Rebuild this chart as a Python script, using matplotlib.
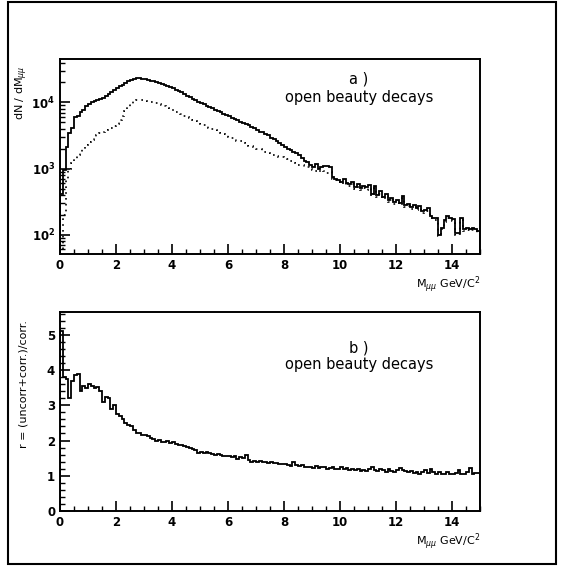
import numpy as np
import matplotlib
matplotlib.use("Agg")
import matplotlib.pyplot as plt
from matplotlib.patches import Rectangle
from matplotlib.ticker import MultipleLocator, LogLocator

# 0.1 GeV bins from 0 to 15
bin_edges = np.linspace(0, 15, 151)

# log10 of dN/dM, solid histogram (a)
solid_log = [
    2.62, 2.98, 3.32, 3.53, 3.62, 3.78, 3.80, 3.85, 3.88, 3.95,
    3.98, 4.00, 4.02, 4.03, 4.05, 4.07, 4.09, 4.12, 4.15, 4.18,
    4.22, 4.24, 4.27, 4.30, 4.32, 4.34, 4.36, 4.37, 4.37, 4.36,
    4.35, 4.34, 4.33, 4.32, 4.31, 4.30, 4.28, 4.27, 4.25, 4.23,
    4.21, 4.19, 4.17, 4.15, 4.12, 4.10, 4.08, 4.05, 4.03, 4.01,
    3.99, 3.97, 3.95, 3.93, 3.91, 3.89, 3.87, 3.85, 3.83, 3.81,
    3.79, 3.77, 3.75, 3.73, 3.71, 3.69, 3.67, 3.66, 3.63, 3.61,
    3.59, 3.56, 3.55, 3.52, 3.50, 3.46, 3.44, 3.41, 3.38, 3.35,
    3.33, 3.30, 3.28, 3.25, 3.23, 3.20, 3.16, 3.12, 3.10, 3.06,
    3.02, 3.07, 3.00, 3.02, 3.04, 3.04, 3.03, 2.88, 2.85, 2.82,
    2.80, 2.85, 2.78, 2.76, 2.80, 2.72, 2.76, 2.70, 2.74, 2.72,
    2.75, 2.62, 2.74, 2.60, 2.66, 2.57, 2.62, 2.52, 2.55, 2.50,
    2.52, 2.48, 2.58, 2.45, 2.47, 2.42, 2.45, 2.40, 2.44, 2.36,
    2.38, 2.40, 2.28, 2.25, 2.26, 2.00, 2.10, 2.22, 2.28, 2.26,
    2.24, 2.02, 2.03, 2.25, 2.08, 2.10, 2.09, 2.10, 2.08, 2.05,
]

# log10 of dN/dM, dotted histogram (a)
dotted_log = [
    1.75, 2.30, 2.85, 3.00, 3.08, 3.15, 3.20, 3.25, 3.30, 3.35,
    3.40, 3.43, 3.46, 3.50, 3.53, 3.56, 3.58, 3.60, 3.62, 3.64,
    3.68, 3.73, 3.80, 3.87, 3.93, 3.98, 4.02, 4.04, 4.04, 4.03,
    4.02, 4.01, 4.01, 4.00, 3.99, 3.98, 3.96, 3.94, 3.92, 3.90,
    3.88, 3.86, 3.84, 3.82, 3.80, 3.78, 3.76, 3.74, 3.72, 3.70,
    3.68, 3.66, 3.64, 3.62, 3.60, 3.58, 3.56, 3.54, 3.52, 3.50,
    3.48, 3.46, 3.44, 3.42, 3.41, 3.40, 3.38, 3.34, 3.34, 3.32,
    3.30, 3.29, 3.27, 3.25, 3.24, 3.22, 3.21, 3.19, 3.18, 3.17,
    3.16, 3.14, 3.12, 3.10, 3.08, 3.06, 3.05, 3.03, 3.02, 3.00,
    2.98, 2.97, 2.95, 2.98, 2.96, 2.94, 2.95, 2.85, 2.82, 2.79,
    2.77, 2.80, 2.74, 2.73, 2.76, 2.69, 2.72, 2.67, 2.70, 2.68,
    2.70, 2.59, 2.70, 2.57, 2.62, 2.54, 2.58, 2.49, 2.52, 2.47,
    2.48, 2.45, 2.55, 2.42, 2.44, 2.39, 2.42, 2.37, 2.40, 2.33,
    2.35, 2.36, 2.25, 2.22, 2.23, 1.98, 2.08, 2.19, 2.25, 2.23,
    2.21, 2.00, 2.01, 2.22, 2.05, 2.07, 2.06, 2.07, 2.05, 2.02,
]

# ratio r = (uncorr+corr.)/corr. (b)
ratio = [
    5.10, 3.80, 3.75, 3.20, 3.70, 3.85, 3.90, 3.40, 3.55, 3.50,
    3.60, 3.55, 3.50, 3.52, 3.40, 3.10, 3.25, 3.20, 2.90, 3.00,
    2.75, 2.70, 2.60, 2.50, 2.45, 2.40, 2.30, 2.20, 2.22, 2.15,
    2.17, 2.12, 2.08, 2.05, 2.00, 2.02, 1.97, 1.95, 2.00, 1.92,
    1.95, 1.90, 1.88, 1.86, 1.85, 1.82, 1.80, 1.76, 1.72, 1.65,
    1.67, 1.66, 1.67, 1.65, 1.62, 1.60, 1.62, 1.58, 1.57, 1.55,
    1.56, 1.53, 1.56, 1.47, 1.52, 1.50, 1.58, 1.45, 1.40, 1.43,
    1.40, 1.41, 1.38, 1.40, 1.37, 1.38, 1.35, 1.36, 1.33, 1.32,
    1.33, 1.30, 1.29, 1.40, 1.30, 1.27, 1.30, 1.25, 1.26, 1.24,
    1.23, 1.28, 1.22, 1.26, 1.24, 1.20, 1.22, 1.26, 1.18, 1.20,
    1.25, 1.20, 1.22, 1.16, 1.18, 1.15, 1.20, 1.14, 1.17, 1.13,
    1.20, 1.25, 1.15, 1.13, 1.18, 1.15, 1.10, 1.20, 1.14, 1.12,
    1.17, 1.22, 1.15, 1.13, 1.10, 1.13, 1.08, 1.12, 1.05, 1.10,
    1.15, 1.08, 1.18, 1.10, 1.06, 1.12, 1.04, 1.05, 1.10, 1.06,
    1.04, 1.08, 1.15, 1.05, 1.06, 1.10, 1.22, 1.05, 1.08, 1.08,
]

solid = 10 ** np.array(solid_log)
dotted = 10 ** np.array(dotted_log)

fig = plt.figure(figsize=(5.63, 5.66), dpi=100)
ax1 = fig.add_axes([0.1066, 0.551, 0.746, 0.3445])
ax2 = fig.add_axes([0.1066, 0.0972, 0.746, 0.3516])

# outer frame of the page
fig.patches.append(Rectangle((0.014, 0.004), 0.974, 0.992, transform=fig.transFigure,
                             fill=False, edgecolor="black", linewidth=1.5))

# (a)
ax1.stairs(solid, bin_edges, color="black", linewidth=1.3)
ax1.stairs(dotted, bin_edges, color="black", linewidth=1.2, linestyle=(0, (1, 2.5)))
ax1.set_yscale("log")
ax1.set_xlim(0, 15)
ax1.set_ylim(51, 45000)
ax1.yaxis.set_major_locator(LogLocator(base=10, numticks=10))
ax1.yaxis.set_minor_locator(LogLocator(base=10, subs=np.arange(2, 10), numticks=10))
ax1.set_ylabel(r"dN / dM$_{\mu\mu}$", fontsize=8)
ax1.yaxis.set_label_coords(-0.072, 0.83)
ax1.text(0.712, 0.90, "a )", transform=ax1.transAxes, ha="center", va="center", fontsize=10.5)
ax1.text(0.712, 0.805, "open beauty decays", transform=ax1.transAxes, ha="center",
         va="center", fontsize=10.5)
ax1.text(1.0, -0.155, r"M$_{\mu\mu}$ GeV/C$^2$", transform=ax1.transAxes,
         ha="right", va="center", fontsize=8)

# (b)
ax2.stairs(ratio, bin_edges, color="black", linewidth=1.3)
ax2.set_xlim(0, 15)
ax2.set_ylim(0, 5.65)
ax2.yaxis.set_major_locator(MultipleLocator(1))
ax2.yaxis.set_minor_locator(MultipleLocator(0.2))
ax2.set_ylabel("r = (uncorr+corr.)/corr.", fontsize=8)
ax2.yaxis.set_label_coords(-0.075, 0.64)
ax2.text(0.712, 0.82, "b )", transform=ax2.transAxes, ha="center", va="center", fontsize=10.5)
ax2.text(0.712, 0.734, "open beauty decays", transform=ax2.transAxes, ha="center",
         va="center", fontsize=10.5)
ax2.text(1.0, -0.155, r"M$_{\mu\mu}$ GeV/C$^2$", transform=ax2.transAxes,
         ha="right", va="center", fontsize=8)

for ax in (ax1, ax2):
    ax.xaxis.set_major_locator(MultipleLocator(2))
    ax.xaxis.set_minor_locator(MultipleLocator(0.5))
    ax.tick_params(which="both", direction="in", top=False, right=False, labelsize=8.5)
    ax.tick_params(which="major", length=7, width=1.2)
    ax.tick_params(which="minor", length=3.5, width=1.0)
    for lab in ax.get_xticklabels() + ax.get_yticklabels():
        lab.set_fontweight("bold")
    for s in ax.spines.values():
        s.set_linewidth(1.4)

fig.savefig("out.png", dpi=100)
